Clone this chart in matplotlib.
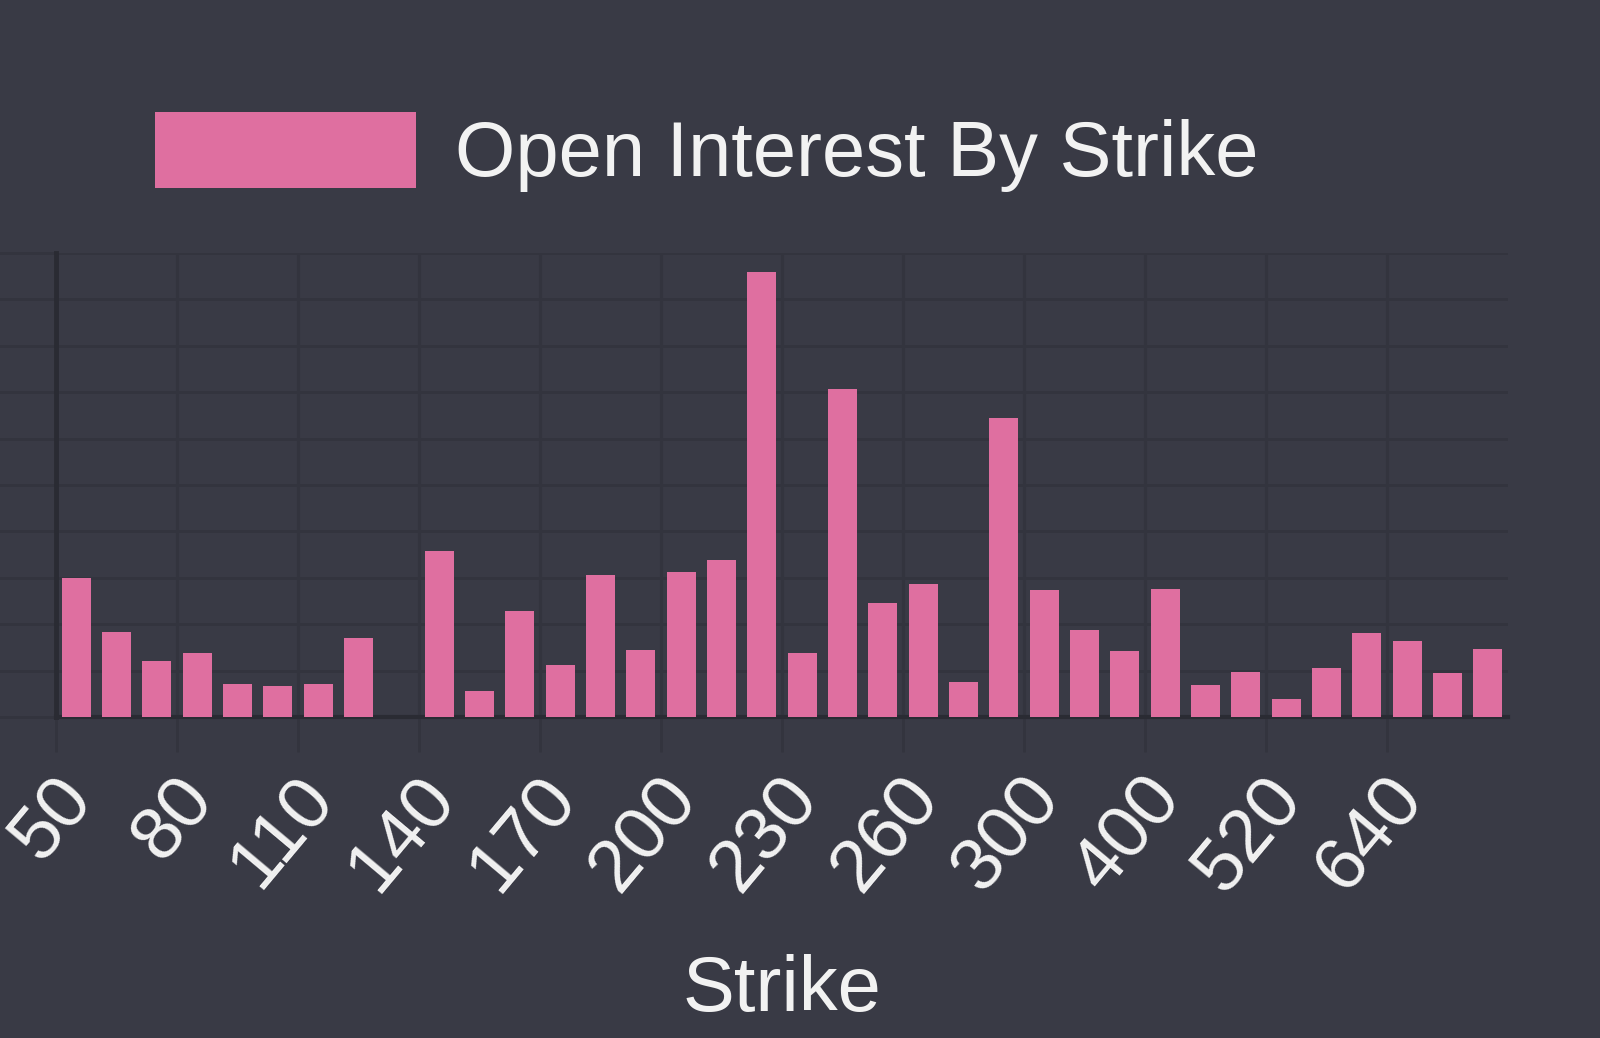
import matplotlib.pyplot as plt
import matplotlib.transforms as mtransforms
import numpy as np

# strike labels (only every 3rd one is readable on the chart, rest guessed)
strikes = [50, 60, 70, 80, 90, 100, 110, 120, 130, 140, 150, 160, 170, 180,
           190, 200, 210, 220, 230, 240, 250, 260, 270, 280, 300, 330, 370,
           400, 440, 480, 520, 560, 600, 640, 680, 720]
open_interest = [2990, 1840, 1200, 1380, 710, 660, 710, 1700, 0, 3580, 550,
                 2290, 1120, 3050, 1450, 3130, 3390, 9600, 1380, 7070, 2450,
                 2860, 760, 6440, 2740, 1880, 1420, 2750, 700, 980, 380, 1050,
                 1800, 1630, 950, 1470]
y_ticks = list(range(0, 10001, 1000))
label_every = 3

BG = '#393a45'
GRID = '#33343e'
AXIS = '#2a2b33'
PINK = '#df6fa0'
TEXT = '#f2f2f2'

plt.rcParams['font.family'] = ['Liberation Sans', 'DejaVu Sans']

fig = plt.figure(figsize=(16, 10.38), dpi=100, facecolor=BG)
ax = fig.add_axes([56 / 1600, 321 / 1038, 1452 / 1600, 464 / 1038])
ax.set_facecolor(BG)

x = np.arange(len(strikes))
ax.bar(x, open_interest, width=0.72, color=PINK, zorder=3,
       label='Open Interest By Strike')

ax.set_xlim(-0.5, len(strikes) - 0.5)
ax.set_ylim(0, y_ticks[-1])
ax.set_yticks(y_ticks)
ax.tick_params(axis='y', length=45, width=2, color=GRID, labelleft=False)
ax.grid(axis='y', color=GRID, linewidth=2, zorder=0)

# grid lines sit between the bars, one per shown label
shown = x[::label_every]
ax.set_xticks(shown - 0.5, minor=True)
ax.set_xticks(shown)
ax.set_xticklabels([str(strikes[i]) for i in shown])
ax.grid(axis='x', which='minor', color=GRID, linewidth=2.2, zorder=0)
ax.tick_params(axis='x', which='minor', length=25, width=2, color=GRID)
ax.tick_params(axis='x', which='major', length=0, pad=50, labelsize=54,
               labelcolor=TEXT)

shift = mtransforms.ScaledTranslation(0.03, 0, fig.dpi_scale_trans)
for lab in ax.get_xticklabels():
    lab.set_rotation(50)
    lab.set_ha('right')
    lab.set_va('center')
    lab.set_rotation_mode('anchor')
    lab.set_transform(lab.get_transform() + shift)

for side in ['top', 'right']:
    ax.spines[side].set_visible(False)
ax.spines['left'].set_color(AXIS)
ax.spines['left'].set_linewidth(3.5)
ax.spines['bottom'].set_color(AXIS)
ax.spines['bottom'].set_linewidth(3)

ax.set_xlabel('Strike', fontsize=56, color=TEXT)
ax.xaxis.set_label_coords(0.5, -0.51)

fig.legend(loc='upper left', bbox_to_anchor=(155 / 1600, 1 - 112 / 1038),
           frameon=False, fontsize=56, labelcolor=TEXT, handlelength=3.36,
           handleheight=1.12, handletextpad=0.5, borderpad=0,
           borderaxespad=0)

fig.savefig('out.png', dpi=100, facecolor=BG)
